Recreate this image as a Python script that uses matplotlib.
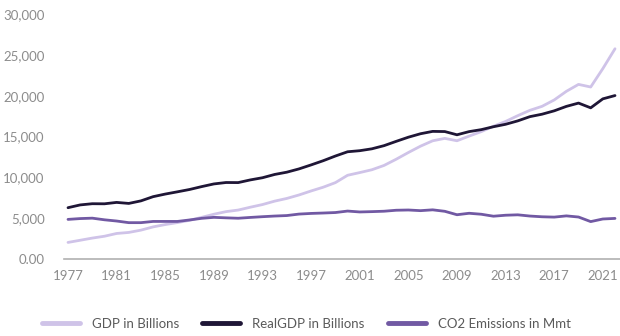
import matplotlib
matplotlib.use("Agg")
import matplotlib.pyplot as plt
from matplotlib.ticker import FuncFormatter

years = list(range(1977, 2023))

gdp_billions = [2030, 2294, 2562, 2788, 3126, 3253, 3535, 3931, 4218, 4460,
                4736, 5100, 5482, 5800, 5992, 6342, 6667, 7085, 7415, 7839,
                8332, 8794, 9354, 10251, 10582, 10929, 11457, 12217, 13039, 13816,
                14474, 14770, 14478, 15049, 15600, 16254, 16843, 17551, 18206, 18695,
                19477, 20533, 21381, 21060, 23315, 25744]

real_gdp_billions = [6282, 6622, 6769, 6759, 6930, 6805, 7118, 7632, 7951, 8226,
                     8511, 8866, 9192, 9366, 9356, 9685, 9951, 10352, 10630, 11031,
                     11522, 12038, 12611, 13131, 13262, 13493, 13879, 14406, 14913, 15338,
                     15626, 15605, 15209, 15599, 15841, 16197, 16495, 16912, 17432, 17731,
                     18144, 18688, 19092, 18510, 19610, 20014]

co2_mmt = [4850, 4950, 5000, 4800, 4650, 4450, 4450, 4600, 4600, 4600,
           4780, 4980, 5100, 5040, 4990, 5090, 5180, 5260, 5320, 5500,
           5580, 5630, 5690, 5870, 5760, 5800, 5850, 5970, 6000, 5920,
           6020, 5840, 5420, 5600, 5480, 5240, 5360, 5410, 5260, 5170,
           5130, 5280, 5140, 4580, 4900, 4970]

tick_years = list(range(1977, 2022, 4))
series_labels = ["GDP in Billions", "RealGDP in Billions", "CO2 Emissions in Mmt"]
colors = ["#cfc3e8", "#1f1636", "#7159a3"]

plt.rcParams["font.family"] = ["Lato", "DejaVu Sans"]

fig = plt.figure(figsize=(6.2, 3.36), dpi=100)
ax = fig.add_axes([64 / 620, 1 - 259 / 336, 1 - 64 / 620, (259 - 14) / 336])

for vals, lab, col in zip([gdp_billions, real_gdp_billions, co2_mmt], series_labels, colors):
    ax.plot(years, vals, color=col, lw=2.0, label=lab, solid_capstyle="round")

ax.set_ylim(0, 30000)
ax.set_xlim(1977 - 4 / 12.16, 2022 + 5 / 12.16)
ax.set_yticks(range(0, 30001, 5000))
ax.yaxis.set_major_formatter(FuncFormatter(lambda v, p: "0.00" if v == 0 else f"{int(v):,}"))
ax.set_xticks(tick_years)
ax.set_xticklabels([str(y) for y in tick_years])

for s in ["top", "right", "left"]:
    ax.spines[s].set_visible(False)
ax.spines["bottom"].set_color("#b0b0b0")
ax.spines["bottom"].set_linewidth(1.2)
ax.tick_params(axis="both", length=0, labelsize=9.5, colors="#8c8c8c", labelcolor="#8c8c8c")
ax.tick_params(axis="x", pad=8)
ax.tick_params(axis="y", pad=14)

leg = fig.legend(loc="center", bbox_to_anchor=(0.494, 1 - 324 / 336), ncol=3, frameon=False,
                 handlelength=2.9, handletextpad=0.9, columnspacing=1.75, fontsize=9.5)
for h in leg.get_lines():
    h.set_linewidth(3.5)
for t in leg.get_texts():
    t.set_color("#5a5a5a")

fig.savefig("out.png", dpi=100)
